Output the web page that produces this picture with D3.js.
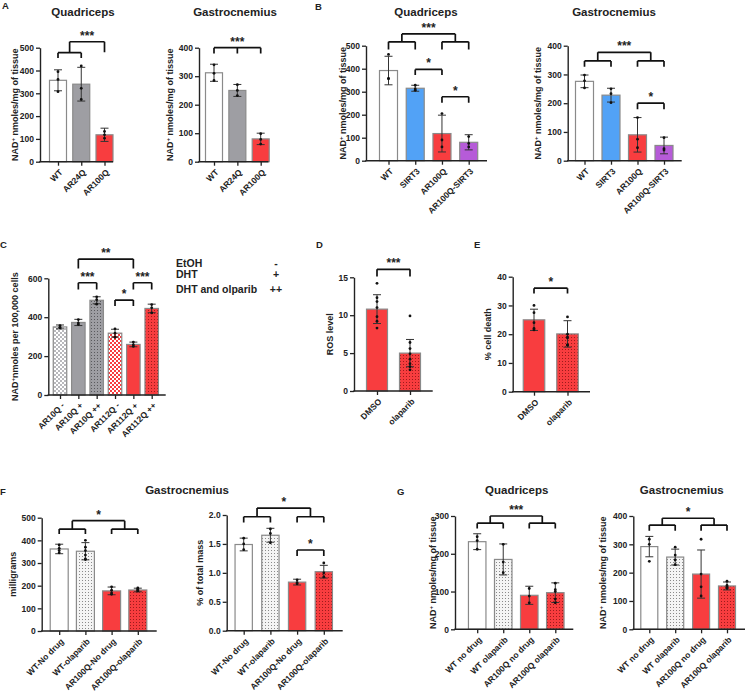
<!DOCTYPE html>
<html><head><meta charset="utf-8">
<script src="https://cdn.jsdelivr.net/npm/d3@7"></script>
<style>
body{margin:0;background:#fff}
svg text{font-family:"Liberation Sans",Arial,sans-serif;font-weight:bold;fill:#222}
</style></head><body>
<svg id="fig" width="747" height="696"></svg>
<script>
// ---------- DATA ----------
const catsA = ["WT","AR24Q","AR100Q"];
const aQuadMean = [357,340,118];
const aQuadSD = [46,74,29];
const aQuadPts = [[395,361,307],[420,322,273],[133,118,103]];
const aGasMean = [312,250,80];
const aGasSD = [30,21,20];
const aGasPts = [[340,310,285],[270,250,232],[98,78,62]];
const aQuadTicks = [0,100,200,300,400,500];
const aGasTicks = [0,100,200,300,400];
const aQuadSig = [
  {legs:[{at:[0],to:455},{at:[1],to:455}], top:478, label:""},
  {legs:[{at:[0,1],to:478},{at:[2],to:480}], top:526, label:"***"}];
const aGasSig = [{legs:[{at:[0],to:380},{at:[1],to:380},{at:[2],to:380}], top:400, label:"***"}];

const catsB = ["WT","SIRT3","AR100Q","AR100Q-SIRT3"];
const bQuadMean = [392,315,118,80];
const bQuadSD = [62,13,80,33];
const bQuadPts = [[462,358,356],[328,312,306],[205,90,60],[105,75,60]];
const bGasMean = [276,228,90,53];
const bGasSD = [22,24,60,29];
const bGasPts = [[298,278,253],[250,233,202],[150,75,45],[80,42,37]];
const bQuadTicks = [0,100,200,300,400,500];
const bGasTicks = [0,100,200,300,400];
const bQuadSig = [
  {legs:[{at:[0],to:484},{at:[1],to:484}], top:517, label:""},
  {legs:[{at:[2],to:484},{at:[3],to:484}], top:517, label:""},
  {legs:[{at:[0,1],to:517},{at:[2,3],to:517}], top:551, label:"***"},
  {legs:[{at:[1],to:373},{at:[2],to:373}], top:397, label:"*"},
  {legs:[{at:[2],to:252},{at:[3],to:252}], top:278, label:"*"}];
const bGasSig = [
  {legs:[{at:[0],to:327},{at:[1],to:327}], top:347, label:""},
  {legs:[{at:[2],to:327},{at:[3],to:327}], top:347, label:""},
  {legs:[{at:[0,1],to:347},{at:[2,3],to:347}], top:377, label:"***"},
  {legs:[{at:[2],to:179},{at:[3],to:179}], top:200, label:"*"}];

const catsC = ["AR10Q -","AR10Q +","AR10Q ++","AR112Q -","AR112Q +","AR112Q ++"];
const cMean = [350,373,487,318,260,445];
const cSD = [10,16,18,20,12,22];
const cPts = [[357,348,345],[388,370,362],[505,490,467],[340,318,297],[272,258,250],[465,448,422]];
const cTicks = [0,200,400,600];
const cSig = [
  {legs:[{at:[1],to:651},{at:[4],to:651}], top:699, label:"**"},
  {legs:[{at:[1],to:543},{at:[2],to:543}], top:577, label:"***"},
  {legs:[{at:[3],to:458},{at:[4],to:458}], top:488, label:"*"},
  {legs:[{at:[4],to:543},{at:[5],to:543}], top:577, label:"***"}];
const cLegendText = ["EtOH","DHT","DHT and olparib"];
const cLegendSym = ["-","+","++"];

const catsDE = ["DMSO","olaparib"];
const dMean = [10.8,5.0];
const dSD = [1.9,1.8];
const dPts = [[14.2,12.3,11.8,11,9.8,9.2,8.3],[9.9,6.4,5.6,4.9,4.2,3.6,3.2,2.8]];
const dTicks = [0,5,10,15];
const dSig = [{legs:[{at:[0],to:15.1},{at:[1],to:15.1}], top:16.05, label:"***"}];
const eMean = [25,20.1];
const eSD = [3.7,4.6];
const ePts = [[30,27.5,24,22,21.5],[26,20,19,18.7,16.3,16.2]];
const eTicks = [0,10,20,30,40];
const eSig = [{legs:[{at:[0],to:34.2},{at:[1],to:34.2}], top:36, label:"*"}];

const catsF = ["WT-No drug","WT-olaparib","AR100Q-No drug","AR100Q-olaparib"];
const fMgMean = [362,352,177,181];
const fMgSD = [21,38,17,8];
const fMgPts = [[380,365,355,345],[400,370,355,335,318,315],[195,180,168,162],[190,185,182,178,176]];
const fPctMean = [1.49,1.65,0.84,1.02];
const fPctSD = [0.11,0.12,0.05,0.11];
const fPctPts = [[1.6,1.5,1.4],[1.76,1.68,1.52],[0.88,0.83,0.81],[1.17,1.0,0.93]];
const fMgTicks = [0,100,200,300,400,500];
const fPctTicks = [0,0.5,1.0,1.5,2.0];
const fMgSig = [
  {legs:[{at:[0],to:428},{at:[1],to:428}], top:450, label:""},
  {legs:[{at:[2],to:428},{at:[3],to:428}], top:450, label:""},
  {legs:[{at:[0,1],to:450},{at:[2,3],to:450}], top:487, label:"*"}];
const fPctSig = [
  {legs:[{at:[0],to:1.87},{at:[1],to:1.87}], top:1.97, label:""},
  {legs:[{at:[2],to:1.87},{at:[3],to:1.87}], top:1.97, label:""},
  {legs:[{at:[0,1],to:1.97},{at:[2,3],to:1.97}], top:2.12, label:"*"},
  {legs:[{at:[2],to:1.29},{at:[3],to:1.29}], top:1.395, label:"*"}];

const catsG = ["WT no drug","WT olaparib","AR100Q no drug","AR100Q olaparib"];
const gQuadMean = [232,185,90,97];
const gQuadSD = [21,41,24,26];
const gQuadPts = [[245,235,212],[225,178,150],[108,88,70],[122,105,100,80,70]];
const gGasMean = [292,255,195,153];
const gGasSD = [36,28,85,14];
const gGasPts = [[318,300,240],[290,262,245,228],[318,195,150,118],[170,155,150,148,145]];
const gQuadTicks = [0,100,200,300];
const gGasTicks = [0,100,200,300,400];
const gQuadSig = [
  {legs:[{at:[0],to:267},{at:[1],to:267}], top:281, label:""},
  {legs:[{at:[2],to:267},{at:[3],to:267}], top:281, label:""},
  {legs:[{at:[0,1],to:281},{at:[2,3],to:281}], top:300, label:"***"}];
const gGasSig = [
  {legs:[{at:[0],to:348},{at:[1],to:348}], top:368, label:""},
  {legs:[{at:[2],to:348},{at:[3],to:348}], top:368, label:""},
  {legs:[{at:[0,1],to:368},{at:[2,3],to:368}], top:392, label:"*"}];

// ---------- STYLE ----------
const RED = "#f83d3f", GRAY = "#9e9ea3", BLUE = "#52a2f6", PURPLE = "#b65bd8";
const svg = d3.select("#fig");
const defs = svg.append("defs");
function dots(id, bg, fg){
  const p = defs.append("pattern").attr("id",id).attr("width",3).attr("height",3).attr("patternUnits","userSpaceOnUse");
  p.append("rect").attr("width",3).attr("height",3).attr("fill",bg);
  p.append("rect").attr("x",1).attr("y",1).attr("width",1).attr("height",1).attr("fill",fg);
}
function checker(id, fg){
  const p = defs.append("pattern").attr("id",id).attr("width",4).attr("height",4).attr("patternUnits","userSpaceOnUse");
  p.append("rect").attr("width",4).attr("height",4).attr("fill","#fff");
  p.append("rect").attr("width",2).attr("height",2).attr("fill",fg);
  p.append("rect").attr("x",2).attr("y",2).attr("width",2).attr("height",2).attr("fill",fg);
}
dots("dotsWhite","#f4f4f4","#8a8a8a");
dots("dotsRed",RED,"#9c1c1c");
dots("dotsGray",GRAY,"#5a5a5e");
checker("checkGray","#b8b8bc");
checker("checkRed",RED);

const NADlabel = [["NAD",false],["+",true],[" nmoles/mg of tissue",false]];

function drawPanel(p){
  const g = svg.append("g");
  const x = d3.scalePoint().domain(p.cats).range([p.c0, p.c1]);
  const y = d3.scaleLinear().domain([0, p.yMax]).range([p.y0, p.yTop]);
  const cx = i => x(p.cats[i]);
  // bars
  g.selectAll("rect.bar").data(p.mean).join("rect").attr("class","bar")
    .attr("x",(d,i)=>cx(i)-p.bw/2).attr("y",d=>y(d))
    .attr("width",p.bw).attr("height",d=>p.y0-y(d))
    .attr("fill",(d,i)=>p.fills[i]).attr("stroke","#8a8a8a").attr("stroke-width",1.2);
  // error bars
  p.mean.forEach((m,i)=>{
    const lo = y(m-p.sd[i]), hi = y(m+p.sd[i]);
    g.append("line").attr("x1",cx(i)).attr("x2",cx(i)).attr("y1",lo).attr("y2",hi).attr("stroke","#333").attr("stroke-width",1);
    [lo,hi].forEach(v=>g.append("line").attr("x1",cx(i)-4).attr("x2",cx(i)+4).attr("y1",v).attr("y2",v).attr("stroke","#333").attr("stroke-width",1));
  });
  // points
  p.pts.forEach((arr,i)=>{
    g.selectAll(null).data(arr).join("circle").attr("cx",cx(i)).attr("cy",d=>y(d)).attr("r",1.4).attr("fill","#111");
  });
  // y axis
  const ya = g.append("g").attr("transform",`translate(${p.ax},0)`)
    .call(d3.axisLeft(y).tickValues(p.ticks).tickSize(4).tickSizeOuter(0).tickFormat(p.fmt||d3.format("d")));
  ya.select(".domain").attr("stroke","#222").attr("stroke-width",1.4);
  ya.selectAll(".tick line").attr("stroke","#222").attr("stroke-width",1.3);
  ya.selectAll(".tick text").attr("font-size",8.5).attr("x",-6);
  // x axis
  const xa = g.append("g").attr("transform",`translate(0,${p.y0})`)
    .call(d3.axisBottom(x).tickSize(4).tickSizeOuter(0).tickFormat(""));
  xa.select(".domain").attr("d",`M${p.ax-0.7},0H${p.axEnd}`).attr("stroke","#222").attr("stroke-width",1.4);
  xa.selectAll(".tick line").attr("stroke","#222").attr("stroke-width",1.3);
  g.selectAll("text.xl").data(p.cats).join("text").attr("class","xl")
    .attr("transform",c=>`translate(${x(c)+3},${p.y0+9}) rotate(-45)`)
    .attr("text-anchor","end").attr("dy","0.35em").attr("font-size",8.5).text(c=>c);
  // y label
  const yl = g.append("text").attr("transform",`translate(${p.ylX},${(p.y0+p.yTop)/2}) rotate(-90)`)
    .attr("text-anchor","middle").attr("dy","0.35em").attr("font-size",9);
  p.ylabel.forEach(([t,sup])=>{
    const ts = yl.append("tspan").text(t);
    if(sup) ts.attr("font-size",6).attr("dy","-0.45em");
    else if(t!==p.ylabel[0][0]) ts.attr("dy","0.27em");
  });
  // title
  if(p.title) g.append("text").attr("x",p.tX).attr("y",p.tY).attr("text-anchor","middle").attr("font-size",11.5).text(p.title);
  // brackets
  p.sig.forEach(s=>{
    const lx = s.legs.map(l=>d3.mean(l.at,i=>cx(i)));
    const yt = y(s.top);
    let d = `M${d3.min(lx)},${yt}H${d3.max(lx)}`;
    s.legs.forEach((l,k)=>{ d += `M${lx[k]},${yt}V${y(l.to)}`; });
    g.append("path").attr("d",d).attr("fill","none").attr("stroke","#111").attr("stroke-width",1.7);
    if(s.label) g.append("text").attr("x",(d3.min(lx)+d3.max(lx))/2).attr("y",yt-2)
      .attr("text-anchor","middle").attr("font-size",12).text(s.label);
  });
}

const NAD = NADlabel;
const panels = [
  {cats:catsA, mean:aQuadMean, sd:aQuadSD, pts:aQuadPts, ticks:aQuadTicks, sig:aQuadSig, fills:["#fff",GRAY,RED],
   ax:40, axEnd:113, c0:58, c1:104.5, bw:17, y0:161.7, yTop:47.7, yMax:500, ylX:15, ylabel:NAD, title:"Quadriceps", tX:83, tY:16},
  {cats:catsA, mean:aGasMean, sd:aGasSD, pts:aGasPts, ticks:aGasTicks, sig:aGasSig, fills:["#fff",GRAY,RED],
   ax:199, axEnd:268.5, c0:214, c1:260.7, bw:17, y0:161.7, yTop:47.7, yMax:400, ylX:170, ylabel:NAD, title:"Gastrocnemius", tX:235, tY:16},
  {cats:catsB, mean:bQuadMean, sd:bQuadSD, pts:bQuadPts, ticks:bQuadTicks, sig:bQuadSig, fills:["#fff",BLUE,RED,PURPLE],
   ax:366, axEnd:487, c0:388.5, c1:468.7, bw:18, y0:160.7, yTop:45.7, yMax:500, ylX:343, ylabel:NAD, title:"Quadriceps", tX:426, tY:16},
  {cats:catsB, mean:bGasMean, sd:bGasSD, pts:bGasPts, ticks:bGasTicks, sig:bGasSig, fills:["#fff",BLUE,RED,PURPLE],
   ax:567.7, axEnd:681.7, c0:584.5, c1:664, bw:18, y0:160.7, yTop:45.7, yMax:400, ylX:538, ylabel:NAD, title:"Gastrocnemius", tX:614, tY:16},
  {cats:catsC, mean:cMean, sd:cSD, pts:cPts, ticks:cTicks, sig:cSig,
   fills:["url(#checkGray)",GRAY,"url(#dotsGray)","url(#checkRed)",RED,"url(#dotsRed)"],
   ax:48.3, axEnd:165.7, c0:60, c1:151.7, bw:13.5, y0:395, yTop:278.3, yMax:600, ylX:15,
   ylabel:[["NAD",false],["+",true],["nmoles per 100,000 cells",false]]},
  {cats:catsDE, mean:dMean, sd:dSD, pts:dPts, ticks:dTicks, sig:dSig, fills:[RED,"url(#dotsRed)"],
   ax:354, axEnd:432.7, c0:377, c1:410, bw:21, y0:391, yTop:277.3, yMax:15, ylX:330, ylabel:[["ROS level",false]]},
  {cats:catsDE, mean:eMean, sd:eSD, pts:ePts, ticks:eTicks, sig:eSig, fills:[RED,"url(#dotsRed)"],
   ax:512.7, axEnd:590, c0:534, c1:567.5, bw:21.5, y0:391.7, yTop:276.7, yMax:40, ylX:488, ylabel:[["% cell death",false]]},
  {cats:catsF, mean:fMgMean, sd:fMgSD, pts:fMgPts, ticks:fMgTicks, sig:fMgSig, fills:["#fff","url(#dotsWhite)",RED,"url(#dotsRed)"],
   ax:41.7, axEnd:156.7, c0:59.2, c1:137.8, bw:18, y0:631, yTop:517.7, yMax:500, ylX:13, ylabel:[["milligrams",false]]},
  {cats:catsF, mean:fPctMean, sd:fPctSD, pts:fPctPts, ticks:fPctTicks, sig:fPctSig, fills:["#fff","url(#dotsWhite)",RED,"url(#dotsRed)"],
   ax:226.7, axEnd:342.7, c0:243.7, c1:323.8, bw:17.3, y0:630.7, yTop:515, yMax:2.0, fmt:d3.format(".1f"), ylX:200, ylabel:[["% of total mass",false]]},
  {cats:catsG, mean:gQuadMean, sd:gQuadSD, pts:gQuadPts, ticks:gQuadTicks, sig:gQuadSig, fills:["#fff","url(#dotsWhite)",RED,"url(#dotsRed)"],
   ax:455, axEnd:573.3, c0:477.2, c1:555.3, bw:17.5, y0:629.3, yTop:516, yMax:300, ylX:433, ylabel:NAD, title:"Quadriceps", tX:516.7, tY:494},
  {cats:catsG, mean:gGasMean, sd:gGasSD, pts:gGasPts, ticks:gGasTicks, sig:gGasSig, fills:["#fff","url(#dotsWhite)",RED,"url(#dotsRed)"],
   ax:633.3, axEnd:745, c0:649.3, c1:727, bw:17, y0:629.3, yTop:516, yMax:400, ylX:603, ylabel:NAD, title:"Gastrocnemius", tX:681.7, tY:494}
];
panels.forEach(drawPanel);

// F shared title
svg.append("text").attr("x",187).attr("y",494).attr("text-anchor","middle").attr("font-size",11.5).text("Gastrocnemius");

// C legend
const leg = svg.append("g");
const legY = [266.5, 278.3, 293];
leg.selectAll("text.lt").data(cLegendText).join("text").attr("class","lt")
  .attr("x",176).attr("y",(d,i)=>legY[i]).attr("font-size",10.5).text(d=>d);
leg.selectAll("text.ls").data(cLegendSym).join("text").attr("class","ls")
  .attr("x",276).attr("y",(d,i)=>legY[i]).attr("text-anchor","middle").attr("font-size",10.5).text(d=>d);

// panel letters
const letters = [["A",2,9],["B",315,10],["C",0,248],["D",316,248],["E",474,248],["F",0,495],["G",397,495]];
svg.selectAll("text.pl").data(letters).join("text").attr("class","pl")
  .attr("x",d=>d[1]).attr("y",d=>d[2]).attr("font-size",9.5).text(d=>d[0]);
</script>
</body></html>
